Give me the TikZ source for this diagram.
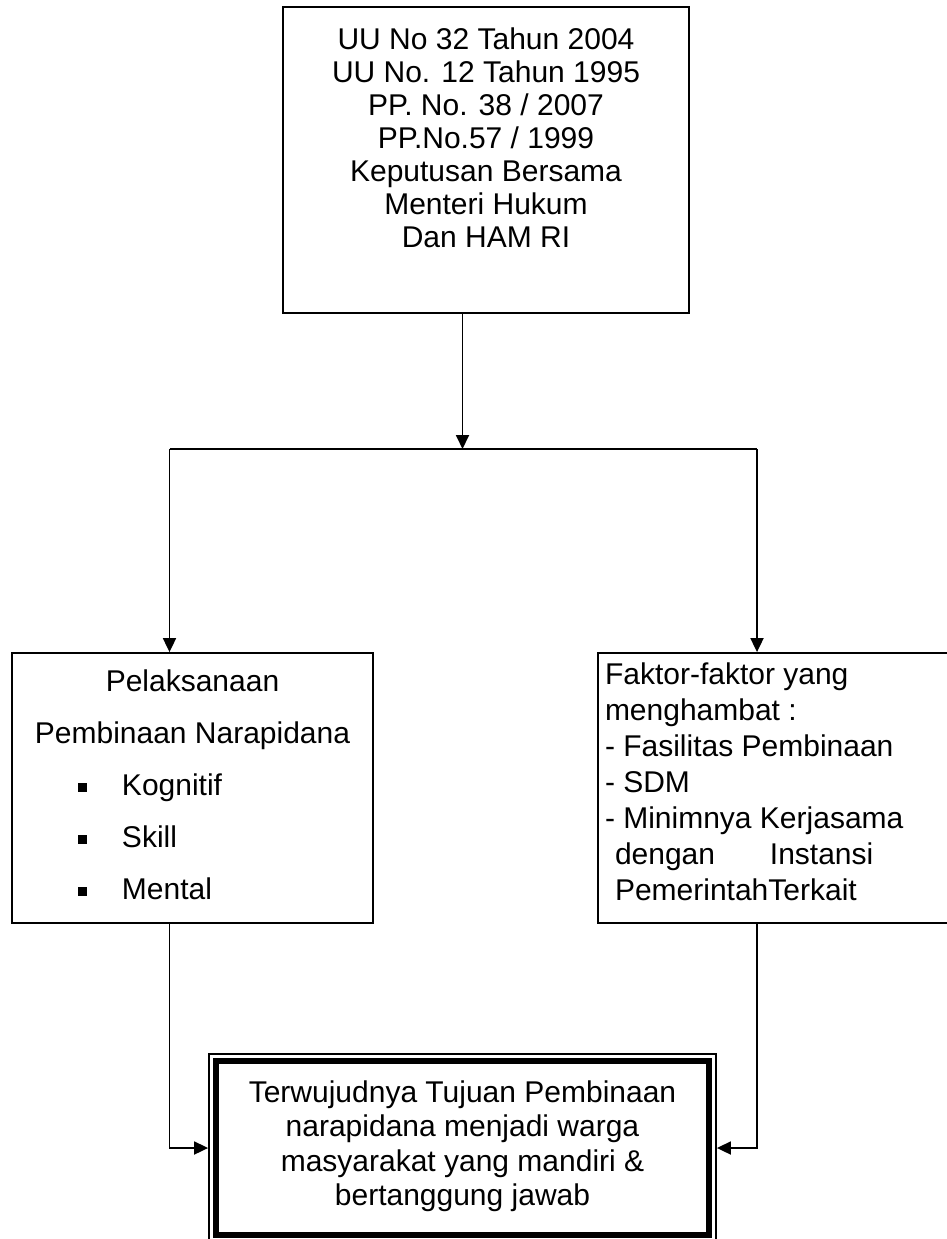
\documentclass[tikz,border=0pt]{standalone}
\usepackage{fontspec}
\setmainfont{Liberation Sans}
\usetikzlibrary{arrows.meta}
\tikzset{
  frame/.style={draw=black, line width=1.8pt, rectangle, inner sep=0pt},
  txt/.style={inner sep=0pt, outer sep=0pt, font=\fontsize{30}{33}\selectfont},
  conn/.style={draw=black, line width=1.8pt},
  arr/.style={conn, -{Triangle[length=14pt,width=13pt]}}
}
\newcommand{\fstrut}{\rule{0pt}{24pt}}
\newcommand{\sqbullet}{\rule[3pt]{9pt}{9pt}}
\begin{document}
\begin{tikzpicture}[x=1pt,y=-1pt]
\useasboundingbox (0,0) rectangle (947,1239);
% boxes
\node[frame, minimum width=406pt, minimum height=306pt] (top) at (486,160) {};
\node[txt, align=center, anchor=north] (toptxt) at (486,25)
  {\fstrut UU No 32 Tahun 2004\\UU No. 12 Tahun 1995\\PP. No. 38 / 2007\\PP.No.57 / 1999\\Keputusan Bersama\\Menteri Hukum\\Dan HAM RI};

\node[frame, minimum width=361pt, minimum height=270pt] (left) at (192.5,788) {};
\node[txt, font=\fontsize{30}{52}\selectfont, align=center, anchor=north] (lefttxt) at (192.5,667)
  {\fstrut Pelaksanaan\\Pembinaan Narapidana\\
   \makebox[361pt][l]{\hspace*{66pt}\sqbullet\hspace*{35pt}Kognitif}\\
   \makebox[361pt][l]{\hspace*{66pt}\sqbullet\hspace*{35pt}Skill}\\
   \makebox[361pt][l]{\hspace*{66pt}\sqbullet\hspace*{35pt}Mental}};

\node[frame, minimum width=362pt, minimum height=270pt] (right) at (779,788) {};
\node[txt, font=\fontsize{30}{36}\selectfont, align=left, anchor=north west] (righttxt) at (605,660)
  {\fstrut Faktor-faktor yang\\menghambat :\\- Fasilitas Pembinaan\\- SDM\\- Minimnya Kerjasama\\
   \hspace*{10pt}\makebox[155pt][l]{dengan}Instansi\\
   \hspace*{10pt}PemerintahTerkait};

\node[frame, minimum width=507pt, minimum height=188pt] (bot) at (462.5,1148) {};
\draw[line width=6pt] ([shift={(8,8)}]bot.north west) rectangle ([shift={(-8,-8)}]bot.south east);
\node[txt, font=\fontsize{30}{34.5}\selectfont, align=center, anchor=north] (bottxt) at (462.5,1078)
  {\fstrut Terwujudnya Tujuan Pembinaan\\narapidana menjadi warga\\masyarakat yang mandiri \&\\bertanggung jawab};

% connectors
\coordinate (jc) at (462.5,449);
\coordinate (jl) at (169.5,449);
\coordinate (jr) at (757,449);
\draw[arr] (jc |- top.south) -- (jc);
\draw[conn] (jl) -- (jr);
\draw[arr] (jl) -- (jl |- left.north);
\draw[arr] (jr) -- (jr |- right.north);
\draw[arr] (jl |- left.south) |- (bot.west);
\draw[arr] (jr |- right.south) |- (bot.east);
\end{tikzpicture}
\end{document}
